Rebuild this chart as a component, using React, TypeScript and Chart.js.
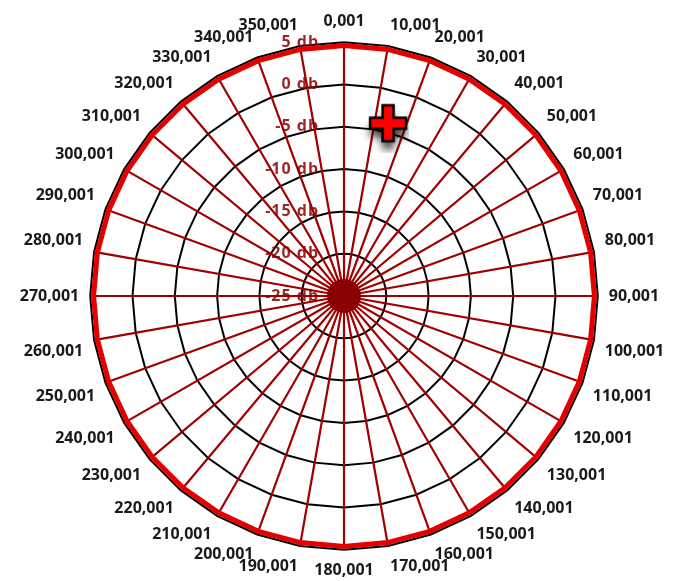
import React, { useEffect, useRef } from "react";
import { Chart, registerables } from "chart.js";

Chart.register(...registerables);

const angles = [0, 10, 20, 30, 40, 50, 60, 70, 80, 90, 100, 110, 120, 130, 140, 150, 160, 170, 180, 190, 200, 210, 220, 230, 240, 250, 260, 270, 280, 290, 300, 310, 320, 330, 340, 350];
const categories = angles.map((a) => `${a},001`);
const patternValues = [4.6, 4.6, 4.6, 4.6, 4.6, 4.6, 4.6, 4.6, 4.6, 4.6, 4.6, 4.6, 4.6, 4.6, 4.6, 4.6, 4.6, 4.6, 4.6, 4.6, 4.6, 4.6, 4.6, 4.6, 4.6, 4.6, 4.6, 4.6, 4.6, 4.6, 4.6, 4.6, 4.6, 4.6, 4.6, 4.6];
const markerValues: (number | null)[] = [null, -4.5, null, null, null, null, null, null, null, null, null, null, null, null, null, null, null, null, null, null, null, null, null, null, null, null, null, null, null, null, null, null, null, null, null, null];
const hubValues: (number | null)[] = [-25, null, null, null, null, null, null, null, null, null, null, null, null, null, null, null, null, null, null, null, null, null, null, null, null, null, null, null, null, null, null, null, null, null, null, null];
const scaleMin = -25;
const scaleMax = 5;
const scaleStep = 5;

function makeCross(): HTMLCanvasElement {
  const c = document.createElement("canvas");
  c.width = 70;
  c.height = 56;
  const ctx = c.getContext("2d")!;
  const cx = 49;
  const cy = 26;
  const L = 18;
  const T = 5.5;
  ctx.save();
  ctx.shadowColor = "rgba(0,0,0,0.8)";
  ctx.shadowBlur = 9;
  ctx.shadowOffsetY = 8;
  ctx.beginPath();
  ctx.moveTo(cx - T, cy - L);
  ctx.lineTo(cx + T, cy - L);
  ctx.lineTo(cx + T, cy - T);
  ctx.lineTo(cx + L, cy - T);
  ctx.lineTo(cx + L, cy + T);
  ctx.lineTo(cx + T, cy + T);
  ctx.lineTo(cx + T, cy + L);
  ctx.lineTo(cx - T, cy + L);
  ctx.lineTo(cx - T, cy + T);
  ctx.lineTo(cx - L, cy + T);
  ctx.lineTo(cx - L, cy - T);
  ctx.lineTo(cx - T, cy - T);
  ctx.closePath();
  ctx.fillStyle = "#ff0000";
  ctx.fill();
  ctx.restore();
  ctx.lineWidth = 2.5;
  ctx.strokeStyle = "#000";
  ctx.lineJoin = "miter";
  ctx.stroke();
  return c;
}

const tickPlugin = {
  id: "dbTicks",
  beforeDatasetsDraw(chart: any) {
    const scale = chart.scales.r;
    const ctx = chart.ctx;
    ctx.save();
    ctx.font = "bold 16px 'Open Sans'";
    (ctx as any).letterSpacing = "1px";
    ctx.fillStyle = "rgba(139,0,0,0.85)";
    ctx.textAlign = "right";
    ctx.textBaseline = "middle";
    scale.ticks.forEach((t: any) => {
      const d = scale.getDistanceFromCenterForValue(t.value);
      ctx.fillText(`${t.value} db`, scale.xCenter - 25, scale.yCenter - d);
    });
    ctx.restore();
  },
};

export default function App() {
  const ref = useRef<HTMLCanvasElement>(null);
  useEffect(() => {
    const cross = makeCross();
    const chart = new Chart(ref.current!, {
      type: "radar",
      data: {
        labels: categories,
        datasets: [
          {
            data: hubValues,
            showLine: false,
            pointRadius: 17,
            pointBackgroundColor: "#8b0000",
            pointBorderWidth: 0,
          },
          {
            data: patternValues,
            borderColor: "#e40000",
            borderWidth: 5,
            backgroundColor: "transparent",
            fill: false,
            pointRadius: 0,
          },
          {
            data: markerValues,
            showLine: false,
            pointStyle: cross as any,
            pointRadius: 20,
            borderWidth: 0,
          },
        ],
      },
      options: {
        animation: false,
        responsive: true,
        maintainAspectRatio: false,
        plugins: { legend: { display: false }, tooltip: { enabled: false } },
        layout: { padding: { left: 10, right: 0, top: 12, bottom: 0 } },
        scales: {
          r: {
            min: scaleMin,
            max: scaleMax,
            ticks: { stepSize: scaleStep, display: false },
            grid: { color: "#000", lineWidth: 2 },
            angleLines: { color: "#a00000", lineWidth: 2.2 },
            pointLabels: {
              color: "#1a1a1a",
              font: { family: "'Open Sans'", size: 16, weight: "bold" },
              padding: 11,
            },
          },
        },
      },
      plugins: [tickPlugin],
    });
    return () => chart.destroy();
  }, []);
  return (
    <div style={{ position: "fixed", left: 0, top: 0, width: 675, height: 581 }}>
      <canvas ref={ref} />
    </div>
  );
}
